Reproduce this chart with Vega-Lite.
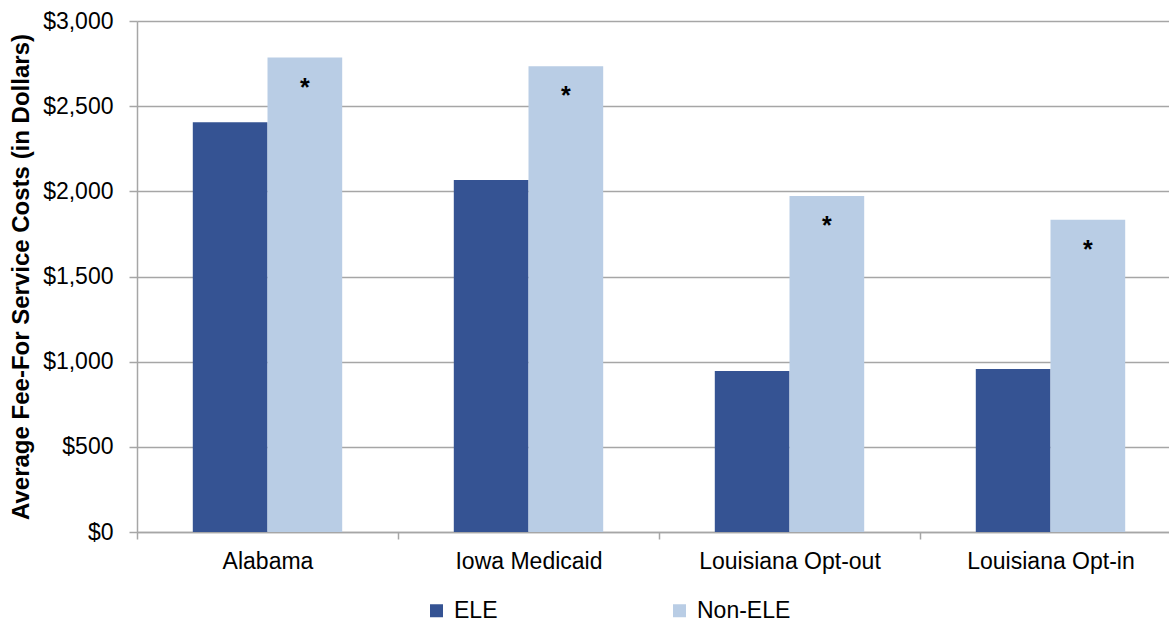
{
  "$schema": "https://vega.github.io/schema/vega-lite/v6.json",
  "width": 1032,
  "height": 511,
  "autosize": {"type": "none"},
  "padding": {"left": 137, "top": 21, "right": 0, "bottom": 90},
  "background": "white",
  "config": {"view": {"stroke": null}, "font": "Liberation Sans"},
  "data": {
    "values": [
      {"state": "Alabama", "group": "ELE", "cost": 2405, "star": ""},
      {"state": "Alabama", "group": "Non-ELE", "cost": 2785, "star": "*"},
      {"state": "Iowa Medicaid", "group": "ELE", "cost": 2066, "star": ""},
      {"state": "Iowa Medicaid", "group": "Non-ELE", "cost": 2734, "star": "*"},
      {"state": "Louisiana Opt-out", "group": "ELE", "cost": 945, "star": ""},
      {"state": "Louisiana Opt-out", "group": "Non-ELE", "cost": 1972, "star": "*"},
      {"state": "Louisiana Opt-in", "group": "ELE", "cost": 957, "star": ""},
      {"state": "Louisiana Opt-in", "group": "Non-ELE", "cost": 1833, "star": "*"}
    ]
  },
  "encoding": {
    "x": {
      "field": "state",
      "type": "nominal",
      "sort": ["Alabama", "Iowa Medicaid", "Louisiana Opt-out", "Louisiana Opt-in"],
      "scale": {"range": [0, 1044], "paddingInner": 0, "paddingOuter": 0},
      "axis": {
        "title": null,
        "labelAngle": 0,
        "labelFontSize": 23,
        "labelColor": "#000000",
        "labelPadding": 11,
        "labelLimit": 400,
        "tickBand": "extent",
        "tickSize": 7,
        "tickColor": "#a6a6a6",
        "tickWidth": 1.5,
        "domainColor": "#a6a6a6",
        "domainWidth": 1.5,
        "grid": false
      }
    },
    "xOffset": {
      "field": "group",
      "type": "nominal",
      "sort": ["ELE", "Non-ELE"],
      "scale": {"paddingInner": 0, "paddingOuter": 0.747}
    },
    "y": {
      "field": "cost",
      "type": "quantitative",
      "scale": {"domain": [0, 3000], "nice": false},
      "axis": {
        "title": "Average Fee-For Service Costs (in Dollars)",
        "titleFontSize": 24,
        "titleFontWeight": "bold",
        "titleColor": "#000000",
        "titlePadding": 9,
        "values": [0, 500, 1000, 1500, 2000, 2500, 3000],
        "format": "$,.0f",
        "labelFontSize": 23,
        "labelColor": "#000000",
        "labelPadding": 16,
        "tickSize": 8,
        "tickColor": "#a6a6a6",
        "tickWidth": 1.5,
        "domainColor": "#a6a6a6",
        "domainWidth": 1.5,
        "gridColor": "#a6a6a6",
        "gridWidth": 1.5
      }
    }
  },
  "layer": [
    {
      "mark": {"type": "bar"},
      "encoding": {
        "color": {
          "field": "group",
          "type": "nominal",
          "scale": {"domain": ["ELE", "Non-ELE"], "range": ["#355393", "#b9cde5"]},
          "legend": {
            "title": null,
            "orient": "none",
            "direction": "horizontal",
            "legendX": 288,
            "legendY": 578,
            "padding": 0,
            "symbolType": "square",
            "symbolSize": 169,
            "symbolStrokeWidth": 0,
            "labelFontSize": 23,
            "labelColor": "#000000",
            "labelOffset": 6,
            "columnPadding": 170
          }
        }
      }
    },
    {
      "mark": {"type": "text", "fontSize": 25, "fontWeight": "bold", "baseline": "alphabetic", "dy": 38, "color": "#000000"},
      "encoding": {"text": {"field": "star"}}
    }
  ]
}
